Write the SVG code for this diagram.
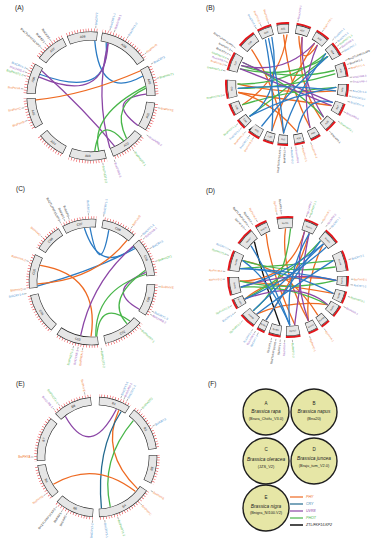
<svg xmlns="http://www.w3.org/2000/svg" width="381" height="550" viewBox="0 0 381 550">
<style>
.k{fill:none;stroke:#222}
.f{fill:none;stroke:#e6e6e6}
.tk{fill:none;stroke:#e8262b}
.rb{fill:none;stroke:#e3161b}
.cn{font-family:"Liberation Sans",Arial,sans-serif;font-size:3.2px;fill:#222;text-anchor:middle}
.pl{font-family:"Liberation Sans",Arial,sans-serif;font-size:6.5px;fill:#222}
.lbl text{font-family:"Liberation Sans",Arial,sans-serif;font-size:3px}
.lbl path{fill:none;stroke:#333;stroke-width:.35}
.e{text-anchor:end}
.lo text{fill:#f07a35}.lb text{fill:#4a8fd0}.lp text{fill:#9a5cc0}.lg text{fill:#4cb84c}.lk text{fill:#222}
#pA .k{stroke-width:9}#pA .f{stroke-width:7.8}
#pC .k,#pE .k{stroke-width:8.5}#pC .f,#pE .f{stroke-width:7.3}
#pB .k{stroke-width:9}#pB .f{stroke-width:7.8}
#pD .k{stroke-width:10}#pD .f{stroke-width:8.8}
#pB .cn{font-size:2.4px}#pD .cn{font-size:2px}
#pB .lbl text,#pD .lbl text{font-size:2.6px}
.cc path{fill:none;stroke-width:1.3;stroke-linecap:round}
.o{stroke:#ee6a22}.b{stroke:#2b7bc4}.p{stroke:#8b46a6}.g{stroke:#48b649}.kk{stroke:#111}.t{stroke:#22698e}
.sp{font-family:"Liberation Sans",Arial,sans-serif;fill:#222;text-anchor:middle}
.lg2{font-family:"Liberation Sans",Arial,sans-serif;font-size:3.6px;font-style:italic}
</style>
<defs>
<mask id="mA" maskUnits="userSpaceOnUse" x="-100" y="-100" width="200" height="200"><circle r="66" fill="none" stroke="#fff" stroke-width="6" pathLength="360" stroke-dasharray="28 4 46 6 28 6 26 6 32 6 34 6 26 8 28 4 28 6 28 4" transform="rotate(-112)"/></mask>
<mask id="mC" maskUnits="userSpaceOnUse" x="-100" y="-100" width="200" height="200"><circle r="64.5" fill="none" stroke="#fff" stroke-width="6" pathLength="360" stroke-dasharray="32 6 32 6 36 8 30 8 38 6 40 6 38 6 32 6 26 4" transform="rotate(-118)"/></mask>
<mask id="mE" maskUnits="userSpaceOnUse" x="-100" y="-100" width="200" height="200"><circle r="61.5" fill="none" stroke="#fff" stroke-width="6" pathLength="360" stroke-dasharray="31 5 44 6 28 8 54 6 38 6 34 4 44 6 38 8" transform="rotate(-88)"/></mask>
</defs>
<rect width="381" height="550" fill="#fff"/>
<text class="pl" x="15" y="10">(A)</text>
<text class="pl" x="206" y="10">(B)</text>
<text class="pl" x="16" y="191">(C)</text>
<text class="pl" x="206" y="193">(D)</text>
<text class="pl" x="16" y="386">(E)</text>
<text class="pl" x="208" y="386">(F)</text>

<!-- Panel A -->
<g id="pA" transform="translate(91 96)">
<circle class="tk" r="66" stroke-width="3" stroke-dasharray="0.5 2.3" mask="url(#mA)"/>
<g id="A-A08"><circle class="k" r="60" pathLength="360" stroke-dasharray="0 0 28 332" transform="rotate(-112)"/><circle class="f" r="60" pathLength="360" stroke-dasharray="0 0.5 27 332.5" transform="rotate(-112)"/><text class="cn" transform="rotate(352)" y="-60" dy="1.1">A08</text></g>
<g id="A-A09"><circle class="k" r="60" pathLength="360" stroke-dasharray="0 32 46 282" transform="rotate(-112)"/><circle class="f" r="60" pathLength="360" stroke-dasharray="0 32.5 45 282.5" transform="rotate(-112)"/><text class="cn" transform="rotate(33)" y="-60" dy="1.1">A09</text></g>
<g id="A-A10"><circle class="k" r="60" pathLength="360" stroke-dasharray="0 84 28 248" transform="rotate(-112)"/><circle class="f" r="60" pathLength="360" stroke-dasharray="0 84.5 27 248.5" transform="rotate(-112)"/><text class="cn" transform="rotate(76)" y="-60" dy="1.1">A10</text></g>
<g id="A-A01"><circle class="k" r="60" pathLength="360" stroke-dasharray="0 118 26 216" transform="rotate(-112)"/><circle class="f" r="60" pathLength="360" stroke-dasharray="0 118.5 25 216.5" transform="rotate(-112)"/><text class="cn" transform="rotate(289)" y="60" dy="1.1">A01</text></g>
<g id="A-A02"><circle class="k" r="60" pathLength="360" stroke-dasharray="0 150 32 178" transform="rotate(-112)"/><circle class="f" r="60" pathLength="360" stroke-dasharray="0 150.5 31 178.5" transform="rotate(-112)"/><text class="cn" transform="rotate(324)" y="60" dy="1.1">A02</text></g>
<g id="A-A03"><circle class="k" r="60" pathLength="360" stroke-dasharray="0 188 34 138" transform="rotate(-112)"/><circle class="f" r="60" pathLength="360" stroke-dasharray="0 188.5 33 138.5" transform="rotate(-112)"/><text class="cn" transform="rotate(3)" y="60" dy="1.1">A03</text></g>
<g id="A-A04"><circle class="k" r="60" pathLength="360" stroke-dasharray="0 228 26 106" transform="rotate(-112)"/><circle class="f" r="60" pathLength="360" stroke-dasharray="0 228.5 25 106.5" transform="rotate(-112)"/><text class="cn" transform="rotate(39)" y="60" dy="1.1">A04</text></g>
<g id="A-A05"><circle class="k" r="60" pathLength="360" stroke-dasharray="0 262 28 70" transform="rotate(-112)"/><circle class="f" r="60" pathLength="360" stroke-dasharray="0 262.5 27 70.5" transform="rotate(-112)"/><text class="cn" transform="rotate(74)" y="60" dy="1.1">A05</text></g>
<g id="A-A06"><circle class="k" r="60" pathLength="360" stroke-dasharray="0 294 28 38" transform="rotate(-112)"/><circle class="f" r="60" pathLength="360" stroke-dasharray="0 294.5 27 38.5" transform="rotate(-112)"/><text class="cn" transform="rotate(286)" y="-60" dy="1.1">A06</text></g>
<g id="A-A07"><circle class="k" r="60" pathLength="360" stroke-dasharray="0 328 28 4" transform="rotate(-112)"/><circle class="f" r="60" pathLength="360" stroke-dasharray="0 328.5 27 4.5" transform="rotate(-112)"/><text class="cn" transform="rotate(320)" y="-60" dy="1.1">A07</text></g>
<g class="lbl">
<g class="lb" transform="rotate(-86)"><path d="M68 0h2.5"/><text x="71" y="1">BraCRY2</text></g>
<g class="lb" transform="rotate(-74)"><path d="M68 0h2.5"/><text x="71" y="1">BraCRY1-1</text></g>
<g class="lp" transform="rotate(-70)"><path d="M68 0h2.5"/><text x="71" y="1">BraUVR8-1</text></g>
<g class="lb" transform="rotate(-58)"><path d="M68 0h2.5"/><text x="71" y="1">BraCRY1-2</text></g>
<g class="lo" transform="rotate(-38)"><path d="M68 0h2.5"/><text x="71" y="1">BraPHYB</text></g>
<g class="lb" transform="rotate(-28)"><path d="M68 0h2.5"/><text x="71" y="1">BraCRY3</text></g>
<g class="lg" transform="rotate(-15)"><path d="M68 0h2.5"/><text x="71" y="1">BraPHOT1</text></g>
<g class="lo" transform="rotate(10)"><path d="M68 0h2.5"/><text x="71" y="1">BraPHYE</text></g>
<g class="lp" transform="rotate(35)"><path d="M68 0h2.5"/><text x="71" y="1">BraUVR8-2</text></g>
<g class="lg" transform="rotate(52)"><path d="M68 0h2.5"/><text x="71" y="1">BraPHOT2-1</text></g>
<g class="lp" transform="rotate(70)"><path d="M68 0h2.5"/><text x="71" y="1">BraUVR8-3</text></g>
<g class="lg" transform="rotate(80)"><path d="M68 0h2.5"/><text x="71" y="1">BraPHOT2-2</text></g>
<g class="lo" transform="rotate(339)"><path d="M-68 0h-2.5"/><text class="e" x="-71" y="1">BraPHYD</text></g>
<g class="lo" transform="rotate(350)"><path d="M-68 0h-2.5"/><text class="e" x="-71" y="1">BraPHYC</text></g>
<g class="lo" transform="rotate(6)"><path d="M-68 0h-2.5"/><text class="e" x="-71" y="1">BraPHYA</text></g>
<g class="lg" transform="rotate(17)"><path d="M-68 0h-2.5"/><text class="e" x="-71" y="1">BraPHOT1-2</text></g>
<g class="lp" transform="rotate(20)"><path d="M-68 0h-2.5"/><text class="e" x="-71" y="1">BraUVR8-4</text></g>
<g class="lb" transform="rotate(23)"><path d="M-68 0h-2.5"/><text class="e" x="-71" y="1">BraCRY1-3</text></g>
<g class="lk" transform="rotate(44)"><path d="M-68 0h-2.5"/><text class="e" x="-71" y="1">BraZTL/FKF1/LKP2</text></g>
<g class="lk" transform="rotate(49)"><path d="M-68 0h-2.5"/><text class="e" x="-71" y="1">BraFKF1</text></g>
<g class="lk" transform="rotate(54)"><path d="M-68 0h-2.5"/><text class="e" x="-71" y="1">BraLKP2</text></g>
</g>
</g>

<!-- Panel B -->
<g id="pB" transform="translate(287 84)">
<circle class="rb" r="61" stroke-width="2" pathLength="360" stroke-dasharray="18 4 14 5 12 7 14 6 14 5 14 7 14 7 12 7 12 7 12 7 10 6 10 6 10 4 10 4 12 5 10 5 12 5 18 9 18 8" transform="rotate(-141)"/>
<g id="B-C08"><circle class="k" r="55.5" pathLength="360" stroke-dasharray="0 0 18 342" transform="rotate(-141)"/><circle class="f" r="55.5" pathLength="360" stroke-dasharray="0 0.5 17 342.5" transform="rotate(-141)"/><text class="cn" transform="rotate(318)" y="-55.5" dy="0.9">C08</text></g>
<g id="B-C09"><circle class="k" r="55.5" pathLength="360" stroke-dasharray="0 22 14 324" transform="rotate(-141)"/><circle class="f" r="55.5" pathLength="360" stroke-dasharray="0 22.5 13 324.5" transform="rotate(-141)"/><text class="cn" transform="rotate(338)" y="-55.5" dy="0.9">C09</text></g>
<g id="B-A01"><circle class="k" r="55.5" pathLength="360" stroke-dasharray="0 41 12 307" transform="rotate(-141)"/><circle class="f" r="55.5" pathLength="360" stroke-dasharray="0 41.5 11 307.5" transform="rotate(-141)"/><text class="cn" transform="rotate(356)" y="-55.5" dy="0.9">A01</text></g>
<g id="B-A02"><circle class="k" r="55.5" pathLength="360" stroke-dasharray="0 60 14 286" transform="rotate(-141)"/><circle class="f" r="55.5" pathLength="360" stroke-dasharray="0 60.5 13 286.5" transform="rotate(-141)"/><text class="cn" transform="rotate(16)" y="-55.5" dy="0.9">A02</text></g>
<g id="B-A03"><circle class="k" r="55.5" pathLength="360" stroke-dasharray="0 80 14 266" transform="rotate(-141)"/><circle class="f" r="55.5" pathLength="360" stroke-dasharray="0 80.5 13 266.5" transform="rotate(-141)"/><text class="cn" transform="rotate(36)" y="-55.5" dy="0.9">A03</text></g>
<g id="B-A04"><circle class="k" r="55.5" pathLength="360" stroke-dasharray="0 99 14 247" transform="rotate(-141)"/><circle class="f" r="55.5" pathLength="360" stroke-dasharray="0 99.5 13 247.5" transform="rotate(-141)"/><text class="cn" transform="rotate(55)" y="-55.5" dy="0.9">A04</text></g>
<g id="B-A05"><circle class="k" r="55.5" pathLength="360" stroke-dasharray="0 120 14 226" transform="rotate(-141)"/><circle class="f" r="55.5" pathLength="360" stroke-dasharray="0 120.5 13 226.5" transform="rotate(-141)"/><text class="cn" transform="rotate(76)" y="-55.5" dy="0.9">A05</text></g>
<g id="B-A06"><circle class="k" r="55.5" pathLength="360" stroke-dasharray="0 141 12 207" transform="rotate(-141)"/><circle class="f" r="55.5" pathLength="360" stroke-dasharray="0 141.5 11 207.5" transform="rotate(-141)"/><text class="cn" transform="rotate(276)" y="55.5" dy="0.9">A06</text></g>
<g id="B-A07"><circle class="k" r="55.5" pathLength="360" stroke-dasharray="0 160 12 188" transform="rotate(-141)"/><circle class="f" r="55.5" pathLength="360" stroke-dasharray="0 160.5 11 188.5" transform="rotate(-141)"/><text class="cn" transform="rotate(295)" y="55.5" dy="0.9">A07</text></g>
<g id="B-A08"><circle class="k" r="55.5" pathLength="360" stroke-dasharray="0 179 12 169" transform="rotate(-141)"/><circle class="f" r="55.5" pathLength="360" stroke-dasharray="0 179.5 11 169.5" transform="rotate(-141)"/><text class="cn" transform="rotate(314)" y="55.5" dy="0.9">A08</text></g>
<g id="B-A09"><circle class="k" r="55.5" pathLength="360" stroke-dasharray="0 198 10 152" transform="rotate(-141)"/><circle class="f" r="55.5" pathLength="360" stroke-dasharray="0 198.5 9 152.5" transform="rotate(-141)"/><text class="cn" transform="rotate(332)" y="55.5" dy="0.9">A09</text></g>
<g id="B-A10"><circle class="k" r="55.5" pathLength="360" stroke-dasharray="0 214 10 136" transform="rotate(-141)"/><circle class="f" r="55.5" pathLength="360" stroke-dasharray="0 214.5 9 136.5" transform="rotate(-141)"/><text class="cn" transform="rotate(348)" y="55.5" dy="0.9">A10</text></g>
<g id="B-C01"><circle class="k" r="55.5" pathLength="360" stroke-dasharray="0 230 10 120" transform="rotate(-141)"/><circle class="f" r="55.5" pathLength="360" stroke-dasharray="0 230.5 9 120.5" transform="rotate(-141)"/><text class="cn" transform="rotate(4)" y="55.5" dy="0.9">C01</text></g>
<g id="B-C02"><circle class="k" r="55.5" pathLength="360" stroke-dasharray="0 244 10 106" transform="rotate(-141)"/><circle class="f" r="55.5" pathLength="360" stroke-dasharray="0 244.5 9 106.5" transform="rotate(-141)"/><text class="cn" transform="rotate(18)" y="55.5" dy="0.9">C02</text></g>
<g id="B-C03"><circle class="k" r="55.5" pathLength="360" stroke-dasharray="0 258 12 90" transform="rotate(-141)"/><circle class="f" r="55.5" pathLength="360" stroke-dasharray="0 258.5 11 90.5" transform="rotate(-141)"/><text class="cn" transform="rotate(33)" y="55.5" dy="0.9">C03</text></g>
<g id="B-C04"><circle class="k" r="55.5" pathLength="360" stroke-dasharray="0 275 10 75" transform="rotate(-141)"/><circle class="f" r="55.5" pathLength="360" stroke-dasharray="0 275.5 9 75.5" transform="rotate(-141)"/><text class="cn" transform="rotate(49)" y="55.5" dy="0.9">C04</text></g>
<g id="B-C05"><circle class="k" r="55.5" pathLength="360" stroke-dasharray="0 290 12 58" transform="rotate(-141)"/><circle class="f" r="55.5" pathLength="360" stroke-dasharray="0 290.5 11 58.5" transform="rotate(-141)"/><text class="cn" transform="rotate(65)" y="55.5" dy="0.9">C05</text></g>
<g id="B-C06"><circle class="k" r="55.5" pathLength="360" stroke-dasharray="0 307 18 35" transform="rotate(-141)"/><circle class="f" r="55.5" pathLength="360" stroke-dasharray="0 307.5 17 35.5" transform="rotate(-141)"/><text class="cn" transform="rotate(85)" y="55.5" dy="0.9">C06</text></g>
<g id="B-C07"><circle class="k" r="55.5" pathLength="360" stroke-dasharray="0 334 18 8" transform="rotate(-141)"/><circle class="f" r="55.5" pathLength="360" stroke-dasharray="0 334.5 17 8.5" transform="rotate(-141)"/><text class="cn" transform="rotate(292)" y="-55.5" dy="0.9">C07</text></g>
<g class="lbl">
<g class="lp" transform="rotate(-80)"><path d="M63 0h2.5"/><text x="66" y="0.9">BnaUVR8-1</text></g>
<g class="lo" transform="rotate(-56)"><path d="M63 0h2.5"/><text x="66" y="0.9">BnaPHYB-1</text></g>
<g class="lb" transform="rotate(-44)"><path d="M63 0h2.5"/><text x="66" y="0.9">BnaCRY1-1</text></g>
<g class="lb" transform="rotate(-40)"><path d="M63 0h2.5"/><text x="66" y="0.9">BnaCRY1-2</text></g>
<g class="lg" transform="rotate(-37)"><path d="M63 0h2.5"/><text x="66" y="0.9">BnaPHOT1-1</text></g>
<g class="lp" transform="rotate(-34)"><path d="M63 0h2.5"/><text x="66" y="0.9">BnaUVR8-2</text></g>
<g class="lb" transform="rotate(-30)"><path d="M63 0h2.5"/><text x="66" y="0.9">BnaCRY2-1</text></g>
<g class="lk" transform="rotate(-22)"><path d="M63 0h2.5"/><text x="66" y="0.9">BnaZTL/FKF1/LKP2</text></g>
<g class="lk" transform="rotate(-18)"><path d="M63 0h2.5"/><text x="66" y="0.9">BnaFKF1-1</text></g>
<g class="lo" transform="rotate(-14)"><path d="M63 0h2.5"/><text x="66" y="0.9">BnaPHYE-1</text></g>
<g class="lp" transform="rotate(-6)"><path d="M63 0h2.5"/><text x="66" y="0.9">BnaUVR8-3</text></g>
<g class="lp" transform="rotate(-2)"><path d="M63 0h2.5"/><text x="66" y="0.9">BnaUVR8-4</text></g>
<g class="lb" transform="rotate(6)"><path d="M63 0h2.5"/><text x="66" y="0.9">BnaCRY1-3</text></g>
<g class="lb" transform="rotate(11)"><path d="M63 0h2.5"/><text x="66" y="0.9">BnaCRY3-1</text></g>
<g class="lb" transform="rotate(16)"><path d="M63 0h2.5"/><text x="66" y="0.9">BnaCRY1-4</text></g>
<g class="lp" transform="rotate(26)"><path d="M63 0h2.5"/><text x="66" y="0.9">BnaUVR8-5</text></g>
<g class="lg" transform="rotate(36)"><path d="M63 0h2.5"/><text x="66" y="0.9">BnaPHOT2-1</text></g>
<g class="lk" transform="rotate(48)"><path d="M63 0h2.5"/><text x="66" y="0.9">BnaLKP2-1</text></g>
<g class="lo" transform="rotate(68)"><path d="M63 0h2.5"/><text x="66" y="0.9">BnaPHYA-1</text></g>
<g class="lo" transform="rotate(76)"><path d="M63 0h2.5"/><text x="66" y="0.9">BnaPHYC-1</text></g>
<g class="lp" transform="rotate(82)"><path d="M63 0h2.5"/><text x="66" y="0.9">BnaUVR8-6</text></g>
<g class="lb" transform="rotate(86)"><path d="M63 0h2.5"/><text x="66" y="0.9">BnaCRY2-2</text></g>
<g class="lk" transform="rotate(272)"><path d="M-63 0h-2.5"/><text class="e" x="-66" y="0.9">BnaFKF1-2</text></g>
<g class="lk" transform="rotate(276)"><path d="M-63 0h-2.5"/><text class="e" x="-66" y="0.9">BnaZTL/FKF1/LKP2</text></g>
<g class="lo" transform="rotate(302)"><path d="M-63 0h-2.5"/><text class="e" x="-66" y="0.9">BnaPHYB-2</text></g>
<g class="lb" transform="rotate(306)"><path d="M-63 0h-2.5"/><text class="e" x="-66" y="0.9">BnaCRY1-5</text></g>
<g class="lo" transform="rotate(311)"><path d="M-63 0h-2.5"/><text class="e" x="-66" y="0.9">BnaPHYE-2</text></g>
<g class="lb" transform="rotate(316)"><path d="M-63 0h-2.5"/><text class="e" x="-66" y="0.9">BnaCRY3-2</text></g>
<g class="lg" transform="rotate(321)"><path d="M-63 0h-2.5"/><text class="e" x="-66" y="0.9">BnaPHOT1-2</text></g>
<g class="lg" transform="rotate(350)"><path d="M-63 0h-2.5"/><text class="e" x="-66" y="0.9">BnaPHOT2-2</text></g>
<g class="lg" transform="rotate(12)"><path d="M-63 0h-2.5"/><text class="e" x="-66" y="0.9">BnaPHOT1-3</text></g>
<g class="lo" transform="rotate(17)"><path d="M-63 0h-2.5"/><text class="e" x="-66" y="0.9">BnaPHYA-2</text></g>
<g class="lp" transform="rotate(20)"><path d="M-63 0h-2.5"/><text class="e" x="-66" y="0.9">BnaUVR8-7</text></g>
<g class="lg" transform="rotate(23)"><path d="M-63 0h-2.5"/><text class="e" x="-66" y="0.9">BnaPHOT2-3</text></g>
<g class="lk" transform="rotate(27)"><path d="M-63 0h-2.5"/><text class="e" x="-66" y="0.9">BnaLKP2-2</text></g>
<g class="lk" transform="rotate(31)"><path d="M-63 0h-2.5"/><text class="e" x="-66" y="0.9">BnaFKF1-3</text></g>
<g class="lk" transform="rotate(35)"><path d="M-63 0h-2.5"/><text class="e" x="-66" y="0.9">BnaZTL/FKF1/LKP2</text></g>
<g class="lb" transform="rotate(61)"><path d="M-63 0h-2.5"/><text class="e" x="-66" y="0.9">BnaCRY2-3</text></g>
<g class="lo" transform="rotate(66)"><path d="M-63 0h-2.5"/><text class="e" x="-66" y="0.9">BnaPHYC-2</text></g>
<g class="lo" transform="rotate(73)"><path d="M-63 0h-2.5"/><text class="e" x="-66" y="0.9">BnaPHYD</text></g>
</g>
</g>

<!-- Panel C -->
<g id="pC" transform="translate(92 282)">
<circle class="tk" r="64.5" stroke-width="2.6" stroke-dasharray="0.5 2.3" mask="url(#mC)"/>
<g id="C-C07"><circle class="k" r="59" pathLength="360" stroke-dasharray="0 0 32 328" transform="rotate(-118)"/><circle class="f" r="59" pathLength="360" stroke-dasharray="0 0.5 31 328.5" transform="rotate(-118)"/><text class="cn" transform="rotate(348)" y="-59" dy="1.1">C07</text></g>
<g id="C-C08"><circle class="k" r="59" pathLength="360" stroke-dasharray="0 38 32 290" transform="rotate(-118)"/><circle class="f" r="59" pathLength="360" stroke-dasharray="0 38.5 31 290.5" transform="rotate(-118)"/><text class="cn" transform="rotate(26)" y="-59" dy="1.1">C08</text></g>
<g id="C-C09"><circle class="k" r="59" pathLength="360" stroke-dasharray="0 76 36 248" transform="rotate(-118)"/><circle class="f" r="59" pathLength="360" stroke-dasharray="0 76.5 35 248.5" transform="rotate(-118)"/><text class="cn" transform="rotate(66)" y="-59" dy="1.1">C09</text></g>
<g id="C-C01"><circle class="k" r="59" pathLength="360" stroke-dasharray="0 120 30 210" transform="rotate(-118)"/><circle class="f" r="59" pathLength="360" stroke-dasharray="0 120.5 29 210.5" transform="rotate(-118)"/><text class="cn" transform="rotate(287)" y="59" dy="1.1">C01</text></g>
<g id="C-C02"><circle class="k" r="59" pathLength="360" stroke-dasharray="0 158 38 164" transform="rotate(-118)"/><circle class="f" r="59" pathLength="360" stroke-dasharray="0 158.5 37 164.5" transform="rotate(-118)"/><text class="cn" transform="rotate(329)" y="59" dy="1.1">C02</text></g>
<g id="C-C03"><circle class="k" r="59" pathLength="360" stroke-dasharray="0 202 40 118" transform="rotate(-118)"/><circle class="f" r="59" pathLength="360" stroke-dasharray="0 202.5 39 118.5" transform="rotate(-118)"/><text class="cn" transform="rotate(14)" y="59" dy="1.1">C03</text></g>
<g id="C-C04"><circle class="k" r="59" pathLength="360" stroke-dasharray="0 248 38 74" transform="rotate(-118)"/><circle class="f" r="59" pathLength="360" stroke-dasharray="0 248.5 37 74.5" transform="rotate(-118)"/><text class="cn" transform="rotate(59)" y="59" dy="1.1">C04</text></g>
<g id="C-C05"><circle class="k" r="59" pathLength="360" stroke-dasharray="0 292 32 36" transform="rotate(-118)"/><circle class="f" r="59" pathLength="360" stroke-dasharray="0 292.5 31 36.5" transform="rotate(-118)"/><text class="cn" transform="rotate(280)" y="-59" dy="1.1">C05</text></g>
<g id="C-C06"><circle class="k" r="59" pathLength="360" stroke-dasharray="0 330 26 4" transform="rotate(-118)"/><circle class="f" r="59" pathLength="360" stroke-dasharray="0 330.5 25 4.5" transform="rotate(-118)"/><text class="cn" transform="rotate(315)" y="-59" dy="1.1">C06</text></g>
<g class="lbl">
<g class="lb" transform="rotate(87)"><path d="M-66.5 0h-2.5"/><text class="e" x="-69.5" y="1">BolCRY2</text></g>
<g class="lb" transform="rotate(-80)"><path d="M66.5 0h2.5"/><text x="69.5" y="1">BolCRY1-1</text></g>
<g class="lo" transform="rotate(-54)"><path d="M66.5 0h2.5"/><text x="69.5" y="1">BolPHYB</text></g>
<g class="lb" transform="rotate(-43)"><path d="M66.5 0h2.5"/><text x="69.5" y="1">BolCRY1-2</text></g>
<g class="lp" transform="rotate(-40)"><path d="M66.5 0h2.5"/><text x="69.5" y="1">BolUVR8-1</text></g>
<g class="lb" transform="rotate(-30)"><path d="M66.5 0h2.5"/><text x="69.5" y="1">BolCRY3</text></g>
<g class="lg" transform="rotate(-18)"><path d="M66.5 0h2.5"/><text x="69.5" y="1">BolPHOT1</text></g>
<g class="lo" transform="rotate(4)"><path d="M66.5 0h2.5"/><text x="69.5" y="1">BolPHYE</text></g>
<g class="lb" transform="rotate(26)"><path d="M66.5 0h2.5"/><text x="69.5" y="1">BolCRY1-3</text></g>
<g class="lp" transform="rotate(29)"><path d="M66.5 0h2.5"/><text x="69.5" y="1">BolUVR8-2</text></g>
<g class="lg" transform="rotate(44)"><path d="M66.5 0h2.5"/><text x="69.5" y="1">BolPHOT2-1</text></g>
<g class="lg" transform="rotate(82)"><path d="M66.5 0h2.5"/><text x="69.5" y="1">BolPHOT2-2</text></g>
<g class="lo" transform="rotate(278)"><path d="M-66.5 0h-2.5"/><text class="e" x="-69.5" y="1">BolPHYA-1</text></g>
<g class="lp" transform="rotate(282)"><path d="M-66.5 0h-2.5"/><text class="e" x="-69.5" y="1">BolUVR8-3</text></g>
<g class="lg" transform="rotate(286)"><path d="M-66.5 0h-2.5"/><text class="e" x="-69.5" y="1">BolPHOT1-2</text></g>
<g class="lb" transform="rotate(350)"><path d="M-66.5 0h-2.5"/><text class="e" x="-69.5" y="1">BolCRY1-4</text></g>
<g class="lo" transform="rotate(354)"><path d="M-66.5 0h-2.5"/><text class="e" x="-69.5" y="1">BolPHYD</text></g>
<g class="lo" transform="rotate(18)"><path d="M-66.5 0h-2.5"/><text class="e" x="-69.5" y="1">BolPHYA-2</text></g>
<g class="lo" transform="rotate(42)"><path d="M-66.5 0h-2.5"/><text class="e" x="-69.5" y="1">BolPHYC</text></g>
<g class="lk" transform="rotate(62)"><path d="M-66.5 0h-2.5"/><text class="e" x="-69.5" y="1">BolZTL/FKF1/LKP2</text></g>
<g class="lk" transform="rotate(66)"><path d="M-66.5 0h-2.5"/><text class="e" x="-69.5" y="1">BolFKF1</text></g>
<g class="lk" transform="rotate(70)"><path d="M-66.5 0h-2.5"/><text class="e" x="-69.5" y="1">BolLKP2</text></g>
</g>
</g>

<!-- Panel D -->
<g id="pD" transform="translate(288 277)">
<circle class="rb" r="60" stroke-width="2" pathLength="360" stroke-dasharray="18 5 12 10 16 11 14 9 16 9 20 5 10 5 12 3 12 6 9 4 10 8 14 5 12 4 8 4 16 7 10 4 18 6 20 8" transform="rotate(-146)"/>
<g id="D-B07"><circle class="k" r="54" pathLength="360" stroke-dasharray="0 0 18 342" transform="rotate(-146)"/><circle class="f" r="54" pathLength="360" stroke-dasharray="0 0.5 17 342.5" transform="rotate(-146)"/><text class="cn" transform="rotate(313)" y="-54" dy="0.7">BjuB07</text></g>
<g id="D-B08"><circle class="k" r="54" pathLength="360" stroke-dasharray="0 23 12 325" transform="rotate(-146)"/><circle class="f" r="54" pathLength="360" stroke-dasharray="0 23.5 11 325.5" transform="rotate(-146)"/><text class="cn" transform="rotate(333)" y="-54" dy="0.7">BjuB08</text></g>
<g id="D-A01"><circle class="k" r="54" pathLength="360" stroke-dasharray="0 45 16 299" transform="rotate(-146)"/><circle class="f" r="54" pathLength="360" stroke-dasharray="0 45.5 15 299.5" transform="rotate(-146)"/><text class="cn" transform="rotate(357)" y="-54" dy="0.7">BjuA01</text></g>
<g id="D-A02"><circle class="k" r="54" pathLength="360" stroke-dasharray="0 72 14 274" transform="rotate(-146)"/><circle class="f" r="54" pathLength="360" stroke-dasharray="0 72.5 13 274.5" transform="rotate(-146)"/><text class="cn" transform="rotate(23)" y="-54" dy="0.7">BjuA02</text></g>
<g id="D-A03"><circle class="k" r="54" pathLength="360" stroke-dasharray="0 95 16 249" transform="rotate(-146)"/><circle class="f" r="54" pathLength="360" stroke-dasharray="0 95.5 15 249.5" transform="rotate(-146)"/><text class="cn" transform="rotate(47)" y="-54" dy="0.7">BjuA03</text></g>
<g id="D-A04"><circle class="k" r="54" pathLength="360" stroke-dasharray="0 120 20 220" transform="rotate(-146)"/><circle class="f" r="54" pathLength="360" stroke-dasharray="0 120.5 19 220.5" transform="rotate(-146)"/><text class="cn" transform="rotate(74)" y="-54" dy="0.7">BjuA04</text></g>
<g id="D-A05"><circle class="k" r="54" pathLength="360" stroke-dasharray="0 145 10 205" transform="rotate(-146)"/><circle class="f" r="54" pathLength="360" stroke-dasharray="0 145.5 9 205.5" transform="rotate(-146)"/><text class="cn" transform="rotate(274)" y="54" dy="0.7">BjuA05</text></g>
<g id="D-A06"><circle class="k" r="54" pathLength="360" stroke-dasharray="0 160 12 188" transform="rotate(-146)"/><circle class="f" r="54" pathLength="360" stroke-dasharray="0 160.5 11 188.5" transform="rotate(-146)"/><text class="cn" transform="rotate(290)" y="54" dy="0.7">BjuA06</text></g>
<g id="D-A07"><circle class="k" r="54" pathLength="360" stroke-dasharray="0 175 12 173" transform="rotate(-146)"/><circle class="f" r="54" pathLength="360" stroke-dasharray="0 175.5 11 173.5" transform="rotate(-146)"/><text class="cn" transform="rotate(305)" y="54" dy="0.7">BjuA07</text></g>
<g id="D-A08"><circle class="k" r="54" pathLength="360" stroke-dasharray="0 193 9 158" transform="rotate(-146)"/><circle class="f" r="54" pathLength="360" stroke-dasharray="0 193.5 8 158.5" transform="rotate(-146)"/><text class="cn" transform="rotate(321.5)" y="54" dy="0.7">BjuA08</text></g>
<g id="D-A09"><circle class="k" r="54" pathLength="360" stroke-dasharray="0 206 10 144" transform="rotate(-146)"/><circle class="f" r="54" pathLength="360" stroke-dasharray="0 206.5 9 144.5" transform="rotate(-146)"/><text class="cn" transform="rotate(335)" y="54" dy="0.7">BjuA09</text></g>
<g id="D-A10"><circle class="k" r="54" pathLength="360" stroke-dasharray="0 224 14 122" transform="rotate(-146)"/><circle class="f" r="54" pathLength="360" stroke-dasharray="0 224.5 13 122.5" transform="rotate(-146)"/><text class="cn" transform="rotate(355)" y="54" dy="0.7">BjuA10</text></g>
<g id="D-B01"><circle class="k" r="54" pathLength="360" stroke-dasharray="0 243 12 105" transform="rotate(-146)"/><circle class="f" r="54" pathLength="360" stroke-dasharray="0 243.5 11 105.5" transform="rotate(-146)"/><text class="cn" transform="rotate(13)" y="54" dy="0.7">BjuB01</text></g>
<g id="D-B02"><circle class="k" r="54" pathLength="360" stroke-dasharray="0 259 8 93" transform="rotate(-146)"/><circle class="f" r="54" pathLength="360" stroke-dasharray="0 259.5 7 93.5" transform="rotate(-146)"/><text class="cn" transform="rotate(27)" y="54" dy="0.7">BjuB02</text></g>
<g id="D-B03"><circle class="k" r="54" pathLength="360" stroke-dasharray="0 271 16 73" transform="rotate(-146)"/><circle class="f" r="54" pathLength="360" stroke-dasharray="0 271.5 15 73.5" transform="rotate(-146)"/><text class="cn" transform="rotate(43)" y="54" dy="0.7">BjuB03</text></g>
<g id="D-B04"><circle class="k" r="54" pathLength="360" stroke-dasharray="0 294 10 56" transform="rotate(-146)"/><circle class="f" r="54" pathLength="360" stroke-dasharray="0 294.5 9 56.5" transform="rotate(-146)"/><text class="cn" transform="rotate(63)" y="54" dy="0.7">BjuB04</text></g>
<g id="D-B05"><circle class="k" r="54" pathLength="360" stroke-dasharray="0 308 18 34" transform="rotate(-146)"/><circle class="f" r="54" pathLength="360" stroke-dasharray="0 308.5 17 34.5" transform="rotate(-146)"/><text class="cn" transform="rotate(81)" y="54" dy="0.7">BjuB05</text></g>
<g id="D-B06"><circle class="k" r="54" pathLength="360" stroke-dasharray="0 332 20 8" transform="rotate(-146)"/><circle class="f" r="54" pathLength="360" stroke-dasharray="0 332.5 19 8.5" transform="rotate(-146)"/><text class="cn" transform="rotate(286)" y="-54" dy="0.7">BjuB06</text></g>
<g class="lbl">
<g class="lp" transform="rotate(-73)"><path d="M63 0h2.5"/><text x="66" y="0.9">BjuUVR8-1</text></g>
<g class="lg" transform="rotate(-70)"><path d="M63 0h2.5"/><text x="66" y="0.9">BjuPHOT1-1</text></g>
<g class="lo" transform="rotate(-58)"><path d="M63 0h2.5"/><text x="66" y="0.9">BjuPHYB-1</text></g>
<g class="lp" transform="rotate(-53)"><path d="M63 0h2.5"/><text x="66" y="0.9">BjuUVR8-2</text></g>
<g class="lb" transform="rotate(-49)"><path d="M63 0h2.5"/><text x="66" y="0.9">BjuCRY1-1</text></g>
<g class="lb" transform="rotate(-16)"><path d="M63 0h2.5"/><text x="66" y="0.9">BjuCRY2-1</text></g>
<g class="lo" transform="rotate(2)"><path d="M63 0h2.5"/><text x="66" y="0.9">BjuPHYE-1</text></g>
<g class="lb" transform="rotate(7)"><path d="M63 0h2.5"/><text x="66" y="0.9">BjuCRY1-2</text></g>
<g class="lg" transform="rotate(18)"><path d="M63 0h2.5"/><text x="66" y="0.9">BjuPHOT2-1</text></g>
<g class="lp" transform="rotate(28)"><path d="M63 0h2.5"/><text x="66" y="0.9">BjuUVR8-3</text></g>
<g class="lo" transform="rotate(55)"><path d="M63 0h2.5"/><text x="66" y="0.9">BjuPHYA-1</text></g>
<g class="lo" transform="rotate(70)"><path d="M63 0h2.5"/><text x="66" y="0.9">BjuPHYC-1</text></g>
<g class="lg" transform="rotate(86)"><path d="M63 0h2.5"/><text x="66" y="0.9">BjuPHOT1-2</text></g>
<g class="lp" transform="rotate(273)"><path d="M-63 0h-2.5"/><text class="e" x="-66" y="0.9">BjuUVR8-4</text></g>
<g class="lk" transform="rotate(277)"><path d="M-63 0h-2.5"/><text class="e" x="-66" y="0.9">BjuFKF1-1</text></g>
<g class="lk" transform="rotate(281)"><path d="M-63 0h-2.5"/><text class="e" x="-66" y="0.9">BjuZTL/FKF1/LKP2</text></g>
<g class="lk" transform="rotate(285)"><path d="M-63 0h-2.5"/><text class="e" x="-66" y="0.9">BjuLKP2-1</text></g>
<g class="lb" transform="rotate(298)"><path d="M-63 0h-2.5"/><text class="e" x="-66" y="0.9">BjuCRY1-3</text></g>
<g class="lp" transform="rotate(301)"><path d="M-63 0h-2.5"/><text class="e" x="-66" y="0.9">BjuUVR8-5</text></g>
<g class="lb" transform="rotate(304)"><path d="M-63 0h-2.5"/><text class="e" x="-66" y="0.9">BjuCRY3-1</text></g>
<g class="lg" transform="rotate(316)"><path d="M-63 0h-2.5"/><text class="e" x="-66" y="0.9">BjuPHOT2-2</text></g>
<g class="lb" transform="rotate(326)"><path d="M-63 0h-2.5"/><text class="e" x="-66" y="0.9">BjuCRY1-4</text></g>
<g class="lg" transform="rotate(333)"><path d="M-63 0h-2.5"/><text class="e" x="-66" y="0.9">BjuPHOT1-3</text></g>
<g class="lo" transform="rotate(358)"><path d="M-63 0h-2.5"/><text class="e" x="-66" y="0.9">BjuPHYB-2</text></g>
<g class="lo" transform="rotate(5)"><path d="M-63 0h-2.5"/><text class="e" x="-66" y="0.9">BjuPHYE-2</text></g>
<g class="lg" transform="rotate(20)"><path d="M-63 0h-2.5"/><text class="e" x="-66" y="0.9">BjuPHOT2-3</text></g>
<g class="lb" transform="rotate(25)"><path d="M-63 0h-2.5"/><text class="e" x="-66" y="0.9">BjuCRY2-2</text></g>
<g class="lk" transform="rotate(48)"><path d="M-63 0h-2.5"/><text class="e" x="-66" y="0.9">BjuFKF1-2</text></g>
<g class="lk" transform="rotate(52)"><path d="M-63 0h-2.5"/><text class="e" x="-66" y="0.9">BjuZTL/FKF1/LKP2</text></g>
<g class="lk" transform="rotate(56)"><path d="M-63 0h-2.5"/><text class="e" x="-66" y="0.9">BjuLKP2-2</text></g>
<g class="lo" transform="rotate(61)"><path d="M-63 0h-2.5"/><text class="e" x="-66" y="0.9">BjuPHYA-2</text></g>
<g class="lo" transform="rotate(80)"><path d="M-63 0h-2.5"/><text class="e" x="-66" y="0.9">BjuPHYD</text></g>
<g class="lk" transform="rotate(84)"><path d="M-63 0h-2.5"/><text class="e" x="-66" y="0.9">BjuLKP2-3</text></g>
</g>
</g>

<!-- Panel E -->
<g id="pE" transform="translate(97 457)">
<circle class="tk" r="61.5" stroke-width="2.6" stroke-dasharray="0.5 2.3" mask="url(#mE)"/>
<g id="E-B1"><circle class="k" r="56" pathLength="360" stroke-dasharray="0 0 31 329" transform="rotate(-88)"/><circle class="f" r="56" pathLength="360" stroke-dasharray="0 0.5 30 329.5" transform="rotate(-88)"/><text class="cn" transform="rotate(17.5)" y="-56" dy="1.1">B1</text></g>
<g id="E-B2"><circle class="k" r="56" pathLength="360" stroke-dasharray="0 36 44 280" transform="rotate(-88)"/><circle class="f" r="56" pathLength="360" stroke-dasharray="0 36.5 43 280.5" transform="rotate(-88)"/><text class="cn" transform="rotate(60)" y="-56" dy="1.1">B2</text></g>
<g id="E-B3"><circle class="k" r="56" pathLength="360" stroke-dasharray="0 86 28 246" transform="rotate(-88)"/><circle class="f" r="56" pathLength="360" stroke-dasharray="0 86.5 27 246.5" transform="rotate(-88)"/><text class="cn" transform="rotate(282)" y="56" dy="1.1">B3</text></g>
<g id="E-B4"><circle class="k" r="56" pathLength="360" stroke-dasharray="0 122 54 184" transform="rotate(-88)"/><circle class="f" r="56" pathLength="360" stroke-dasharray="0 122.5 53 184.5" transform="rotate(-88)"/><text class="cn" transform="rotate(331)" y="56" dy="1.1">B4</text></g>
<g id="E-B5"><circle class="k" r="56" pathLength="360" stroke-dasharray="0 182 38 140" transform="rotate(-88)"/><circle class="f" r="56" pathLength="360" stroke-dasharray="0 182.5 37 140.5" transform="rotate(-88)"/><text class="cn" transform="rotate(23)" y="56" dy="1.1">B5</text></g>
<g id="E-B6"><circle class="k" r="56" pathLength="360" stroke-dasharray="0 226 34 100" transform="rotate(-88)"/><circle class="f" r="56" pathLength="360" stroke-dasharray="0 226.5 33 100.5" transform="rotate(-88)"/><text class="cn" transform="rotate(65)" y="56" dy="1.1">B6</text></g>
<g id="E-B7"><circle class="k" r="56" pathLength="360" stroke-dasharray="0 264 44 52" transform="rotate(-88)"/><circle class="f" r="56" pathLength="360" stroke-dasharray="0 264.5 43 52.5" transform="rotate(-88)"/><text class="cn" transform="rotate(288)" y="-56" dy="1.1">B7</text></g>
<g id="E-B8"><circle class="k" r="56" pathLength="360" stroke-dasharray="0 314 38 8" transform="rotate(-88)"/><circle class="f" r="56" pathLength="360" stroke-dasharray="0 314.5 37 8.5" transform="rotate(-88)"/><text class="cn" transform="rotate(335)" y="-56" dy="1.1">B8</text></g>
<g class="lbl">
<g class="lb" transform="rotate(-68)"><path d="M63.5 0h2.5"/><text x="66.5" y="1">BniCRY1-1</text></g>
<g class="lp" transform="rotate(-65)"><path d="M63.5 0h2.5"/><text x="66.5" y="1">BniUVR8-2</text></g>
<g class="lb" transform="rotate(-62)"><path d="M63.5 0h2.5"/><text x="66.5" y="1">BniCRY1-2</text></g>
<g class="lg" transform="rotate(-47)"><path d="M63.5 0h2.5"/><text x="66.5" y="1">BniPHOT2</text></g>
<g class="lb" transform="rotate(-29)"><path d="M63.5 0h2.5"/><text x="66.5" y="1">BniCRY2</text></g>
<g class="lo" transform="rotate(32)"><path d="M63.5 0h2.5"/><text x="66.5" y="1">BniPHYB</text></g>
<g class="lo" transform="rotate(47)"><path d="M63.5 0h2.5"/><text x="66.5" y="1">BniPHYC</text></g>
<g class="lg" transform="rotate(71)"><path d="M63.5 0h2.5"/><text x="66.5" y="1">BniPHOT1-2</text></g>
<g class="lb" transform="rotate(83)"><path d="M63.5 0h2.5"/><text x="66.5" y="1">BniCRY3-1</text></g>
<g class="lb" transform="rotate(274)"><path d="M-63.5 0h-2.5"/><text class="e" x="-66.5" y="1">BniCRY3-2</text></g>
<g class="lk" transform="rotate(298)"><path d="M-63.5 0h-2.5"/><text class="e" x="-66.5" y="1">BniLKP2</text></g>
<g class="lk" transform="rotate(303)"><path d="M-63.5 0h-2.5"/><text class="e" x="-66.5" y="1">BniFKF1</text></g>
<g class="lk" transform="rotate(309)"><path d="M-63.5 0h-2.5"/><text class="e" x="-66.5" y="1">BniZTL/FKF1/LKP2</text></g>
<g class="lo" transform="rotate(324)"><path d="M-63.5 0h-2.5"/><text class="e" x="-66.5" y="1">BniPHYD</text></g>
<g class="lo" transform="rotate(0)"><path d="M-63.5 0h-2.5"/><text class="e" x="-66.5" y="1">BniPHYA</text></g>
<g class="lp" transform="rotate(48)"><path d="M-63.5 0h-2.5"/><text class="e" x="-66.5" y="1">BniUVR8-1</text></g>
<g class="lg" transform="rotate(54)"><path d="M-63.5 0h-2.5"/><text class="e" x="-66.5" y="1">BniPHOT1-1</text></g>
<g class="lo" transform="rotate(79)"><path d="M-63.5 0h-2.5"/><text class="e" x="-66.5" y="1">BniPHYE</text></g>
</g>
</g>

<!-- Connectors -->
<g id="connectors" class="cc">
<g id="cA">
<path class="b" d="M40.4 74.5Q110 100 106.2 43.1"/>
<path class="b" d="M94.8 41.1Q100 100 142.4 76.3"/>
<path class="p" d="M39.3 77.2Q105 105 108 43.7"/>
<path class="p" d="M42 71Q85 110 114.3 145.8"/>
<path class="p" d="M108 43.7Q95 96 109.8 147.7"/>
<path class="p" d="M145.9 94.1Q105 100 137.6 125.2"/>
<path class="o" d="M36.1 99.8Q85 95 140 71"/>
<path class="g" d="M145.2 86.4Q90 115 98.7 150.5"/>
<path class="g" d="M145.5 88.4Q110 105 126.4 138.1"/>
<path class="g" d="M123.3 140.5Q100 115 94.8 150.9"/>
</g>
<g id="cB">
<path class="o" d="M283.6 35.1Q290 90 310 127.3"/>
<path class="o" d="M298.9 36.5Q300 70 317.2 45.4"/>
<path class="o" d="M287 35Q280 80 242.6 104.7"/>
<path class="o" d="M238 84Q287 95 335.5 90.8"/>
<path class="o" d="M297.2 131.9Q270 100 238.7 92.5"/>
<path class="o" d="M302.1 37.4Q295 80 321 119.2"/>
<path class="o" d="M283.6 132.9Q275 85 251.8 49.9"/>
<path class="o" d="M238.7 92.5Q290 100 331.1 105.5"/>
<path class="o" d="M271.9 130.6Q285 90 314.4 43.4"/>
<path class="g" d="M240.4 68.9Q290 80 327.6 56.6"/>
<path class="g" d="M241.6 65.6Q290 82 334.1 70.5"/>
<path class="g" d="M238.2 88.3Q287 88 334.9 73.8"/>
<path class="g" d="M238 84Q288 85 325.6 53.8"/>
<path class="g" d="M242.6 104.7Q290 90 335.9 87.4"/>
<path class="g" d="M243 62.5Q292 85 323.4 116.8"/>
<path class="g" d="M250 116.1Q290 85 327.6 56.6"/>
<path class="p" d="M314.4 43.4Q285 75 241.6 65.6"/>
<path class="p" d="M332.4 102.4Q290 85 243 62.5"/>
<path class="p" d="M323.4 116.8Q300 80 302.1 37.4"/>
<path class="p" d="M331.1 105.5Q295 90 240.4 68.9"/>
<path class="p" d="M310 127.3Q300 85 317.2 45.4"/>
<path class="b" d="M268.6 38.6Q280 90 283.6 132.9"/>
<path class="b" d="M271.9 37.4Q282 95 250 116.1"/>
<path class="b" d="M265.5 39.9Q275 90 271.9 130.6"/>
<path class="b" d="M335.9 87.4Q290 95 250 116.1"/>
<path class="b" d="M327.6 56.6Q290 90 261.8 126"/>
<path class="b" d="M335.5 90.8Q287 84 238.2 88.3"/>
<path class="b" d="M332.4 102.4Q305 95 297.2 131.9"/>
<path class="b" d="M325.6 53.8Q295 95 283.6 132.9"/>
</g>
<g id="cC">
<path class="b" d="M90.1 228Q100 280 108.7 230.6"/>
<path class="b" d="M84.5 228.5Q100 275 133.4 247.3"/>
<path class="b" d="M38.1 285.8Q95 270 134.6 248.7"/>
<path class="o" d="M38 283.9Q95 280 126.7 240.6"/>
<path class="o" d="M40.6 265.3Q100 275 91.1 336"/>
<path class="p" d="M132.8 246.6Q92 282 80.8 334.8"/>
<path class="p" d="M145.2 272.6Q105 290 138.8 309"/>
<path class="g" d="M145.5 274.5Q95 290 95.8 335.9"/>
<path class="g" d="M129.5 320.8Q100 300 96.7 335.8"/>
<path class="g" d="M126.7 323.4Q105 300 144.8 270.8"/>
</g>
<g id="cD">
<path class="kk" d="M254.6 242.5Q262 275 279.7 324.3"/>
<path class="o" d="M285.5 229Q280 270 308.3 320.5"/>
<path class="o" d="M266.2 234.2Q270 270 294.7 324.5"/>
<path class="o" d="M304.4 231.9Q290 280 240.2 281.2"/>
<path class="o" d="M240.2 281.2Q288 285 333.1 293.4"/>
<path class="o" d="M257.1 313.8Q290 300 327.3 304.6"/>
<path class="o" d="M266.2 319.8Q300 270 309 233.9"/>
<path class="o" d="M245.2 298.8Q280 270 335.9 280.4"/>
<path class="o" d="M317.6 314.8Q290 270 242.9 260.6"/>
<path class="o" d="M323.1 244.3Q305 280 308.3 320.5"/>
<path class="g" d="M240.7 268.6Q290 265 333.1 260.6"/>
<path class="g" d="M242.9 260.6Q290 275 334.9 267"/>
<path class="g" d="M241.1 287Q290 285 327.3 304.6"/>
<path class="g" d="M290.5 229Q285 285 253.5 310.4"/>
<path class="g" d="M245.2 298.8Q290 275 320.1 241.3"/>
<path class="g" d="M240.2 281.2Q288 292 335.9 280.4"/>
<path class="p" d="M304.4 231.9Q292 275 308.3 320.5"/>
<path class="p" d="M309 233.9Q300 280 294.7 324.5"/>
<path class="p" d="M327.3 304.6Q300 280 245.2 298.8"/>
<path class="p" d="M335.9 280.4Q295 270 241.1 287"/>
<path class="b" d="M323.1 244.3Q288 277 253.5 310.4"/>
<path class="b" d="M325.8 247.4Q290 280 245.2 298.8"/>
<path class="b" d="M320.1 241.3Q292 280 266.2 319.8"/>
<path class="b" d="M240.7 268.6Q288 270 335.9 280.4"/>
<path class="b" d="M242.9 260.6Q270 280 289.7 325"/>
<path class="b" d="M251.2 246.1Q275 285 289.7 325"/>
<path class="b" d="M333.1 260.6Q295 285 257.1 313.8"/>
<path class="b" d="M241.1 287Q285 275 323.1 244.3"/>
<path class="b" d="M309 233.9Q285 275 289.7 325"/>
<path class="b" d="M333.1 293.4Q290 270 240.7 268.6"/>
</g>
<g id="cE">
<path class="p" d="M65.6 416.8Q90 460 116.1 409.7"/>
<path class="o" d="M118.6 410.8Q100 452 137.2 488.4"/>
<path class="t" d="M120.9 412Q96 450 101.4 507.8"/>
<path class="g" d="M133.1 420.9Q100 460 110.2 506.3"/>
<path class="o" d="M53.8 484Q95 460 134.9 491.1"/>
</g>
</g>

<!-- Panel F -->
<g id="pF">
<g id="F-A"><circle cx="266" cy="412" r="23" fill="#e6e6a6" stroke="#1e1e1e" stroke-width="1.4"/><text class="sp" x="266" y="405" font-size="4.5">A</text><text class="sp" x="266" y="413" font-size="4.8" font-style="italic">Brassica rapa</text><text class="sp" x="266" y="419.5" font-size="3.9">(Brara_Chiifu_V3.0)</text></g>
<g id="F-B"><circle cx="314" cy="412" r="23" fill="#e6e6a6" stroke="#1e1e1e" stroke-width="1.4"/><text class="sp" x="314" y="405" font-size="4.5">B</text><text class="sp" x="314" y="413" font-size="4.8" font-style="italic">Brassica napus</text><text class="sp" x="314" y="419.5" font-size="3.9">(Bna20)</text></g>
<g id="F-C"><circle cx="266" cy="461" r="23" fill="#e6e6a6" stroke="#1e1e1e" stroke-width="1.4"/><text class="sp" x="266" y="451" font-size="4.5">C</text><text class="sp" x="266" y="460.5" font-size="4.8" font-style="italic">Brassica oleracea</text><text class="sp" x="266" y="467.5" font-size="3.9">(JZS_V2)</text></g>
<g id="F-D"><circle cx="314" cy="461" r="23" fill="#e6e6a6" stroke="#1e1e1e" stroke-width="1.4"/><text class="sp" x="314" y="451" font-size="4.5">D</text><text class="sp" x="314" y="460" font-size="4.8" font-style="italic">Brassica juncea</text><text class="sp" x="314" y="466.5" font-size="3.9">(Braju_tum_V2.0)</text></g>
<g id="F-E"><circle cx="266" cy="508" r="23" fill="#e6e6a6" stroke="#1e1e1e" stroke-width="1.4"/><text class="sp" x="266" y="499" font-size="4.5">E</text><text class="sp" x="266" y="507.5" font-size="4.8" font-style="italic">Brassica nigra</text><text class="sp" x="266" y="514" font-size="3.9">(Bnigra_NI100.V2)</text></g>
<g id="legend">
<path d="M290 497h13" stroke="#ee6a22" stroke-width="1.2"/><text class="lg2" x="306" y="498.3" fill="#ee6a22">PHY</text>
<path d="M290 504h13" stroke="#22698e" stroke-width="1.2"/><text class="lg2" x="306" y="505.3" fill="#3d84b0">CRY</text>
<path d="M290 511h13" stroke="#8b46a6" stroke-width="1.2"/><text class="lg2" x="306" y="512.3" fill="#8b46a6">UVR8</text>
<path d="M290 518h13" stroke="#48b649" stroke-width="1.2"/><text class="lg2" x="306" y="519.3" fill="#48b649">PHOT</text>
<path d="M290 525h13" stroke="#111" stroke-width="1.5"/><text class="lg2" x="306" y="526.3" fill="#111">ZTL/FKF1/LKP2</text>
</g>
</g>
</svg>
